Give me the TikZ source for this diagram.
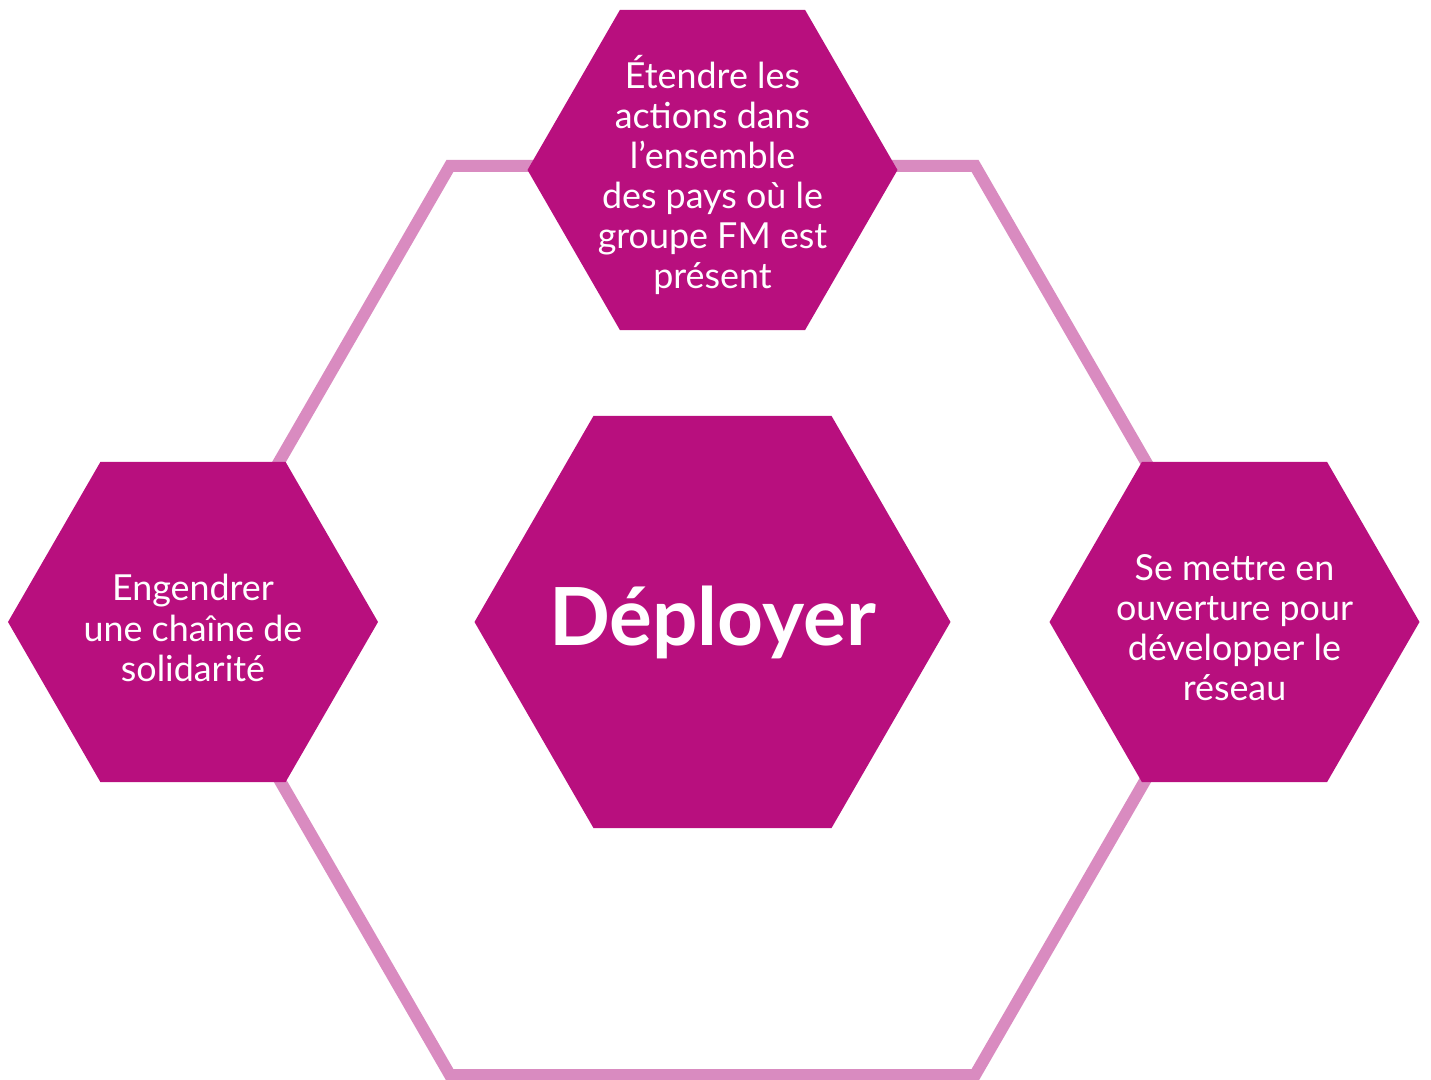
\documentclass[tikz,border=0pt]{standalone}
\usepackage{fontspec}
\setmainfont{Lato}
\usepackage{xcolor}
\usepackage{tikz}
\usetikzlibrary{shapes.geometric}
\definecolor{hexmagenta}{HTML}{B80F7E}
\definecolor{ringpink}{HTML}{D98BC0}

\begin{document}
\begin{tikzpicture}[
  hexa/.style={regular polygon, regular polygon sides=6, inner sep=0pt, fill=hexmagenta, minimum size=3.7cm},
  hexlabel/.style={text=white, align=center, font=\fontsize{10.2}{11.4}\selectfont}]
\useasboundingbox (0,0) rectangle (14.31,10.80);
\node[regular polygon, regular polygon sides=6, draw=ringpink, line width=0.12cm, minimum size=10.5cm] (ring) at (7.125,4.595) {};
\node[hexa, minimum size=4.76cm] (deploy) at (7.125,4.58) {};
\node[hexa] (top) at (7.125,9.10) {};
\node[hexa] (left) at (1.93,4.58) {};
\node[hexa] (right) at (12.345,4.58) {};
\node[hexlabel] (toptext) at (7.125,9.05) {Étendre les\\actions dans\\l’ensemble\\des pays où le\\groupe FM est\\présent};
\node[hexlabel] (lefttext) at (1.93,4.52) {Engendrer\\une chaîne de\\solidarité};
\node[hexlabel] (righttext) at (12.345,4.52) {Se mettre en\\ouverture pour\\développer le\\réseau};
\node[text=white, font=\fontsize{22.8}{26}\selectfont\bfseries] (deploytext) at (deploy) {Déployer};
\end{tikzpicture}
\end{document}
